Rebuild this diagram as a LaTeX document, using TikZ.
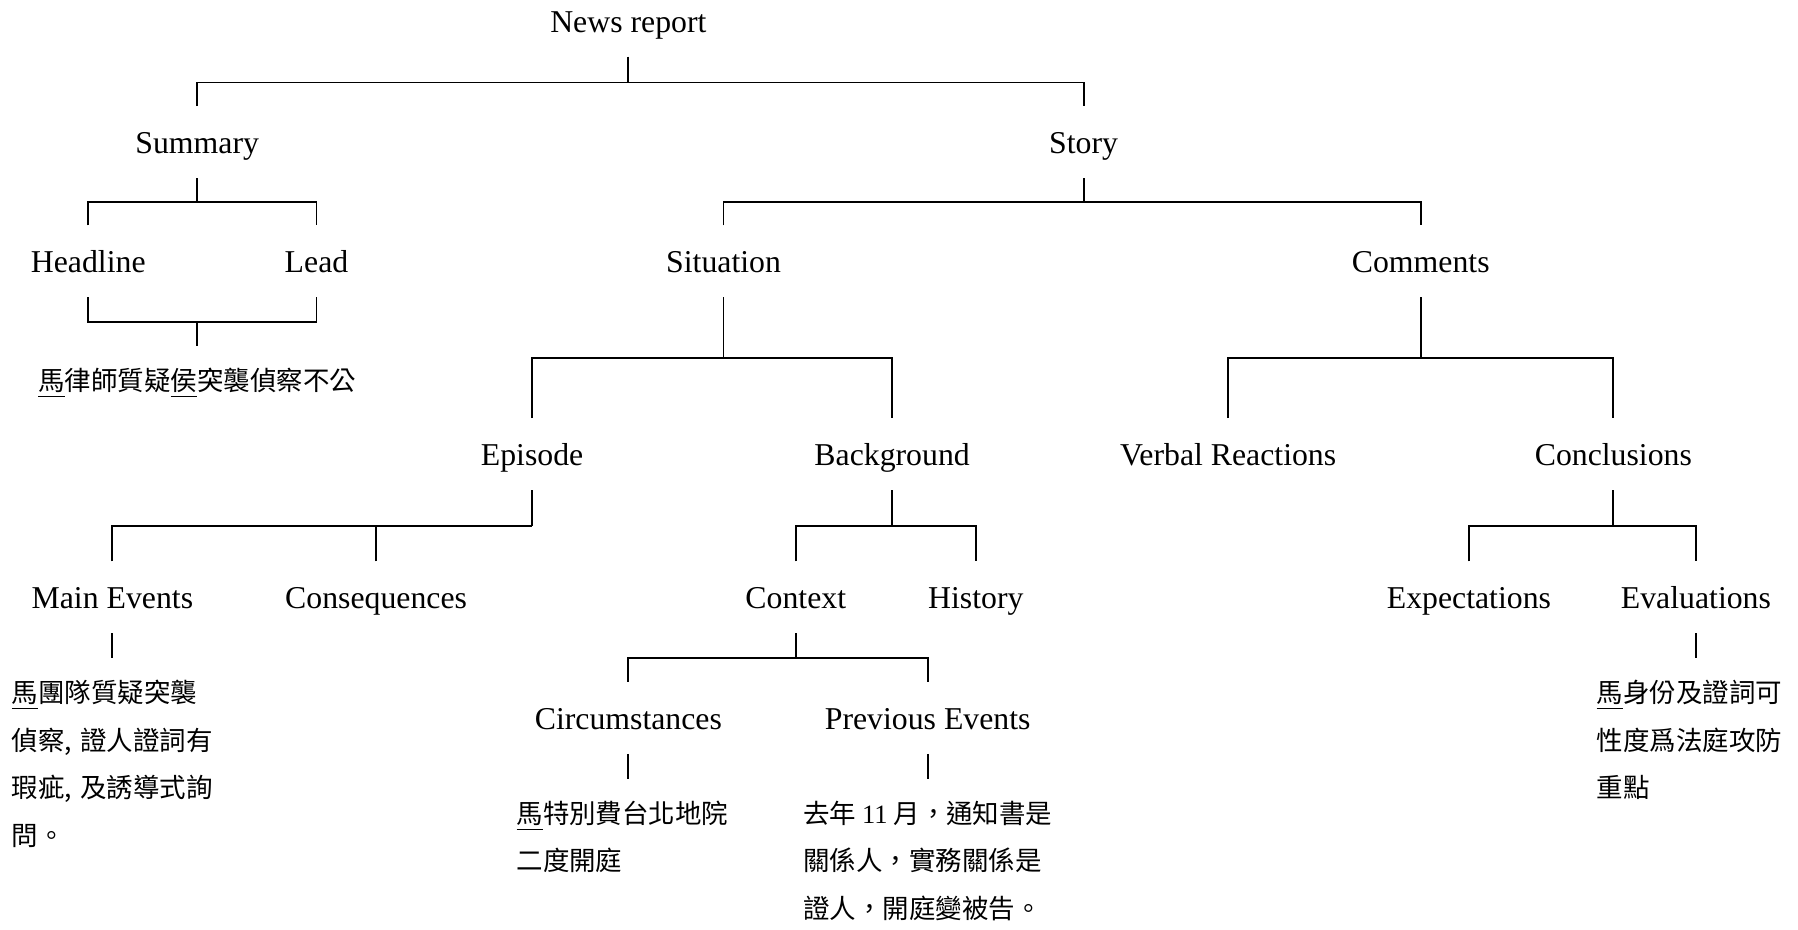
\documentclass[tikz,border=0pt]{standalone}
\usepackage{fontspec}
\setmainfont{Liberation Serif}
\newfontfamily\cjk{Noto Sans CJK TC}
\usepackage{tikz}
\usetikzlibrary{calc}

\begin{document}
\begin{tikzpicture}[
    x=0.433pt, y=-0.433pt,
    every node/.style={font=\fontsize{12}{14}\selectfont},
    part/.style={text height=9.8pt, text depth=1.2pt, inner ysep=7.9pt, inner xsep=2pt},
    gloss/.style={font=\cjk\fontsize{10}{17.9}\selectfont, align=left, anchor=north west, inner xsep=0pt, inner ysep=8.2pt},
    tree/.style={line width=0.7pt}
]
\useasboundingbox (0,0) rectangle (1568,811);

% ── Level 1: News report ──
\node[part] (news)  at (548,18)  {News report};
\node[part] (summ)  at (172,124) {Summary};
\node[part] (story) at (945,124) {Story};

\coordinate (b-news) at (548,72);
\draw[tree] (news.south) -- (b-news);
\draw[tree] (summ.north) |- (b-news) -| (story.north);

% ── Level 2: Summary / Story ──
\node[part] (head) at (77,228)   {Headline};
\node[part] (lead) at (276,228)  {Lead};
\node[part] (sit)  at (631,228)  {Situation};
\node[part] (comm) at (1239,228) {Comments};

\coordinate (b-summ)  at (172,176);
\coordinate (b-story) at (945,176);
\draw[tree] (summ.south) -- (b-summ);
\draw[tree] (head.north) |- (b-summ) -| (lead.north);
\draw[tree] (story.south) -- (b-story);
\draw[tree] (sit.north) |- (b-story) -| (comm.north);

% ── Headline + Lead text ──
\node[gloss, anchor=north] (headtxt) at (172,302) {\underline{馬}律師質疑\underline{侯}突襲偵察不公};
\coordinate (b-head) at (172,281);
\draw[tree] (head.south) |- (b-head) -| (lead.south);
\draw[tree] (b-head) -- (headtxt.north);

% ── Level 3: Situation / Comments ──
\node[part] (epi)  at (464,396)  {Episode};
\node[part] (back) at (778,396)  {Background};
\node[part] (verb) at (1071,396) {Verbal Reactions};
\node[part] (conc) at (1407,396) {Conclusions};

\coordinate (b-sit)  at (631,312);
\coordinate (b-comm) at (1239,312);
\draw[tree] (sit.south) -- (b-sit);
\draw[tree] (epi.north) |- (b-sit) -| (back.north);
\draw[tree] (comm.south) -- (b-comm);
\draw[tree] (verb.north) |- (b-comm) -| (conc.north);

% ── Level 4: Episode / Background / Conclusions ──
\node[part] (main) at (98,521)   {Main Events};
\node[part] (cons) at (328,521)  {Consequences};
\node[part] (ctx)  at (694,521)  {Context};
\node[part] (hist) at (851,521)  {History};
\node[part] (expe) at (1281,521) {Expectations};
\node[part] (eval) at (1479,521) {Evaluations};

\coordinate (b-epi)  at (464,459);
\coordinate (b-back) at (778,459);
\coordinate (b-conc) at (1407,459);
\draw[tree] (epi.south) -- (b-epi);
\draw[tree] (main.north) |- (b-epi);
\draw[tree] (cons.north) -- (cons.north |- b-epi);
\draw[tree] (back.south) -- (b-back);
\draw[tree] (ctx.north) |- (b-back) -| (hist.north);
\draw[tree] (conc.south) -- (b-conc);
\draw[tree] (expe.north) |- (b-conc) -| (eval.north);

% ── Level 5: Context ──
\node[part] (circ) at (548,626) {Circumstances};
\node[part] (prev) at (809,626) {Previous Events};

\coordinate (b-ctx) at (694,574);
\draw[tree] (ctx.south) -- (b-ctx);
\draw[tree] (circ.north) |- (b-ctx) -| (prev.north);

% ── Leaf texts ──
\node[gloss] (maintxt) at (10,574)   {\underline{馬}團隊質疑突襲\\偵察,\kern.3em證人證詞有\\瑕疵,\kern.3em及誘導式詢\\問。};
\node[gloss] (circtxt) at (450,679)  {\underline{馬}特別費台北地院\\二度開庭};
\node[gloss] (prevtxt) at (700,679)  {去年 {\rmfamily 11} 月，通知書是\\關係人，實務關係是\\證人，開庭變被告。};
\node[gloss] (evaltxt) at (1392,574) {\underline{馬}身份及證詞可\\性度爲法庭攻防\\重點};

\draw[tree] (main.south) -- (main.south |- maintxt.north);
\draw[tree] (circ.south) -- (circ.south |- circtxt.north);
\draw[tree] (prev.south) -- (prev.south |- prevtxt.north);
\draw[tree] (eval.south) -- (eval.south |- evaltxt.north);

\end{tikzpicture}
\end{document}
